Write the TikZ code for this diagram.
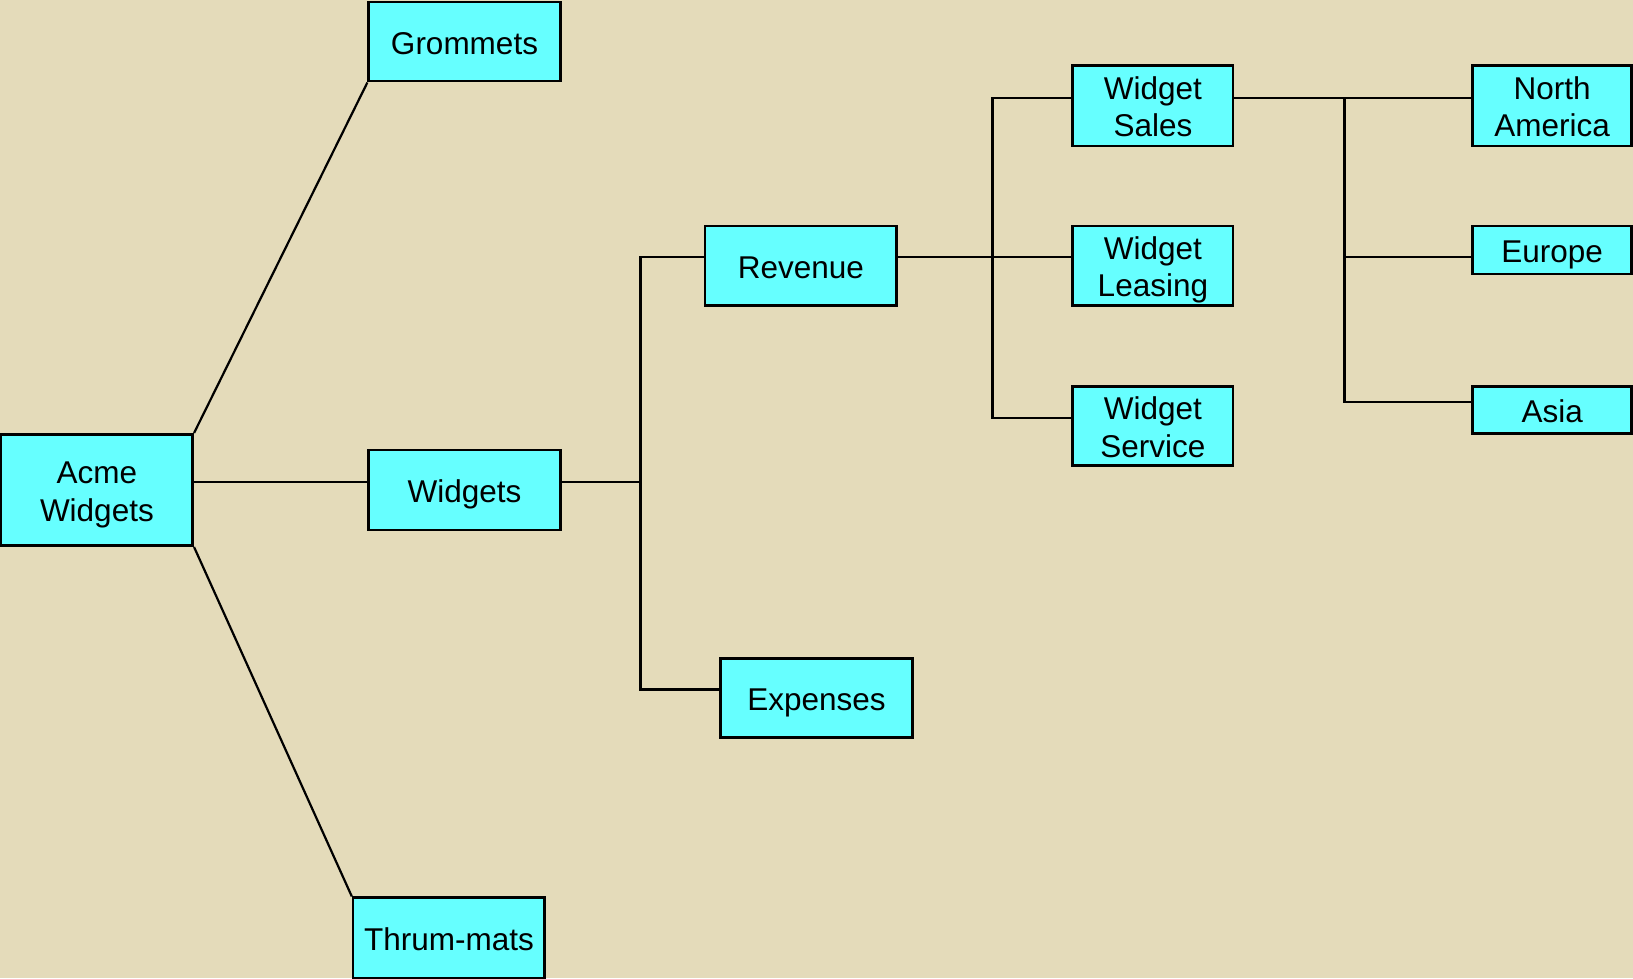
\documentclass[tikz,border=0pt]{standalone}
\usepackage{fontspec}
\setmainfont{Liberation Sans}
\definecolor{bgbeige}{HTML}{E4DBBA}
\definecolor{boxcyan}{HTML}{66FFFF}
\newcommand\boxtext[1]{\raisebox{-11.2pt}[0pt][0pt]{\begin{tabular}[c]{@{}c@{}}#1\end{tabular}}}
\tikzset{
  box/.style={draw=black, line width=2.6pt, fill=boxcyan, inner sep=0pt,
    font=\fontsize{31.5}{37.5}\selectfont, text=black},
  conn/.style={draw=black, line width=2.2pt},
}
\begin{document}
\begin{tikzpicture}[x=1pt, y=-1pt]
\fill[bgbeige] (0,0) rectangle (1633,978);
\useasboundingbox (0,0) rectangle (1633,978);

\node[box, minimum width=191.7pt, minimum height=111.4pt] (acme) at (96.9,490) {\boxtext{Acme\\Widgets}};
\node[box, minimum width=191.6pt, minimum height=79.1pt] (grommets) at (464.5,41.6) {\boxtext{Grommets}};
\node[box, minimum width=191.6pt, minimum height=80.2pt] (widgets) at (464.5,490) {\boxtext{Widgets}};
\node[box, minimum width=191.6pt, minimum height=80.2pt] (thrum) at (448.9,937.8) {\boxtext{Thrum-mats}};
\node[box, minimum width=191.6pt, minimum height=79.2pt] (revenue) at (800.9,265.6) {\boxtext{Revenue}};
\node[box, minimum width=191.6pt, minimum height=79.2pt] (expenses) at (816.5,697.8) {\boxtext{Expenses}};
\node[box, minimum width=160.4pt, minimum height=80.2pt] (wsales) at (1152.9,105.7) {\boxtext{Widget\\Sales}};
\node[box, minimum width=160.4pt, minimum height=79.2pt] (wleasing) at (1152.9,265.6) {\boxtext{Widget\\Leasing}};
\node[box, minimum width=160.4pt, minimum height=79.1pt] (wservice) at (1152.9,425.95) {\boxtext{Widget\\Service}};
\node[box, minimum width=159pt, minimum height=80.2pt] (namerica) at (1552.2,105.7) {\boxtext{North\\America}};
\node[box, minimum width=159pt, minimum height=47.9pt] (europe) at (1552.2,250) {\boxtext{Europe}};
\node[box, minimum width=159pt, minimum height=46.9pt] (asia) at (1552.2,409.9) {\boxtext{Asia}};

% bus coordinates
\coordinate (b1t) at (640.5,257.2);
\coordinate (b1m) at (640.5,482.2);
\coordinate (b1b) at (640.5,689.4);
\coordinate (b2t) at (992.5,97.9);
\coordinate (b2m) at (992.5,257.2);
\coordinate (b2b) at (992.5,417.6);
\coordinate (b3t) at (1344.5,97.9);
\coordinate (b3m) at (1344.5,257.2);
\coordinate (b3b) at (1344.5,402);

\draw[conn] (acme.north east) -- (grommets.south west);
\draw[conn] (acme.south east) -- (thrum.north west);
\draw[conn] (acme.east |- b1m) -- (widgets.west |- b1m);
\draw[conn] (widgets.east |- b1m) -- (b1m);
\draw[conn] (revenue.west |- b1t) -- (b1t) -- (b1b) -- (expenses.west |- b1b);

\draw[conn] (revenue.east |- b2m) -- (wleasing.west |- b2m);
\draw[conn] (wsales.west |- b2t) -- (b2t) -- (b2b) -- (wservice.west |- b2b);

\draw[conn] (wsales.east |- b3t) -- (namerica.west |- b3t);
\draw[conn] (b3t) -- (b3b) -- (asia.west |- b3b);
\draw[conn] (b3m) -- (europe.west |- b3m);
\end{tikzpicture}
\end{document}
